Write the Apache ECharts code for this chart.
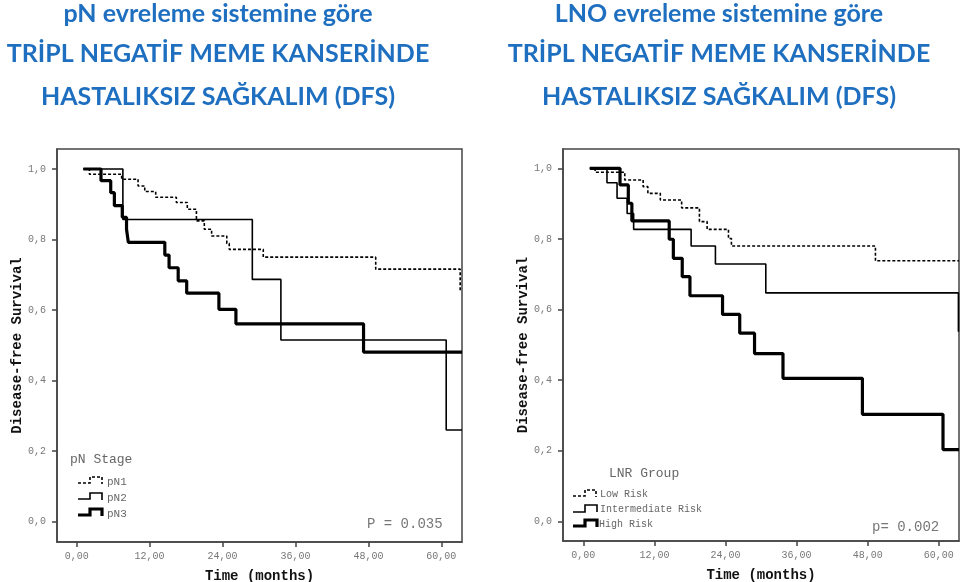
<!DOCTYPE html>
<html>
<head>
<meta charset="utf-8">
<script src="https://cdn.jsdelivr.net/npm/echarts@6/dist/echarts.min.js"></script>
<style>html,body{margin:0;padding:0;background:#fff}#c{width:960px;height:582px}</style>
</head>
<body>
<div id="c"></div>
<script>
// ---- Data ----
var xTicks = [0, 12, 24, 36, 48, 60];
var yTicks = [0, 0.2, 0.4, 0.6, 0.8, 1.0];

// Left chart: pN Stage
var pn1Time = [1.1, 2.1, 7.4, 10.1, 11.2, 13.0, 16.4, 18.2, 19.7, 21.0, 22.2, 24.7, 25.1, 30.7, 49.2, 63.1, 63.1];
var pn1Surv = [1.0, 0.985, 0.971, 0.952, 0.936, 0.920, 0.905, 0.886, 0.853, 0.829, 0.810, 0.789, 0.772, 0.750, 0.716, 0.716, 0.652];
var pn2Time = [1.1, 7.6, 28.9, 33.6, 60.8, 63.4];
var pn2Surv = [1.0, 0.857, 0.687, 0.515, 0.260, 0.260];
var pn3Time = [1.1, 4.0, 5.6, 6.2, 7.5, 8.2, 8.5, 14.5, 15.2, 16.7, 18.1, 23.4, 26.2, 47.2, 63.4];
var pn3Surv = [1.0, 0.967, 0.933, 0.896, 0.863, 0.829, 0.792, 0.756, 0.720, 0.683, 0.648, 0.602, 0.561, 0.481, 0.481];

// Right chart: LNR Group
var lowTime = [1.1, 2.0, 7.0, 10.1, 10.9, 13.0, 16.6, 19.6, 20.9, 24.5, 25.0, 49.3, 63.4];
var lowSurv = [1.0, 0.989, 0.967, 0.948, 0.929, 0.910, 0.888, 0.849, 0.827, 0.801, 0.780, 0.738, 0.738];
var intTime = [1.1, 4.0, 5.7, 7.4, 8.5, 18.2, 22.3, 30.8, 63.3, 63.3];
var intSurv = [1.0, 0.959, 0.915, 0.872, 0.827, 0.780, 0.729, 0.647, 0.647, 0.537];
var highTime = [1.1, 6.2, 7.6, 8.2, 14.5, 15.2, 16.7, 18.0, 23.5, 26.4, 28.9, 33.7, 47.1, 60.7, 63.4];
var highSurv = [1.0, 0.953, 0.901, 0.851, 0.799, 0.745, 0.693, 0.639, 0.586, 0.533, 0.475, 0.405, 0.303, 0.203, 0.203];

var leftTitle = ['pN evreleme sistemine göre', 'TRİPL NEGATİF MEME KANSERİNDE', 'HASTALIKSIZ SAĞKALIM (DFS)'];
var rightTitle = ['LNO evreleme sistemine göre', 'TRİPL NEGATİF MEME KANSERİNDE', 'HASTALIKSIZ SAĞKALIM (DFS)'];

function zip(t, s) { return t.map(function (v, i) { return [v, s[i]]; }); }

var MONO = '"Liberation Mono","DejaVu Sans Mono",monospace';
var frameColor = '#444';
var labelColor = '#777';

function xAxis(idx, min) {
  return {
    type: 'value', gridIndex: idx, min: min, max: 63.4,
    name: 'Time (months)', nameLocation: 'middle', nameGap: 27,
    nameTextStyle: { fontFamily: MONO, fontWeight: 'bold', fontSize: 14, color: '#111' },
    axisLine: { show: true, onZero: false, lineStyle: { color: frameColor, width: 1.5 } },
    axisTick: { show: true, customValues: xTicks, length: 5, inside: false, lineStyle: { color: frameColor, width: 1.5 } },
    axisLabel: { customValues: xTicks, margin: 9, fontFamily: MONO, fontSize: 10, color: labelColor,
      formatter: function (v) { return v.toFixed(2).replace('.', ','); } },
    splitLine: { show: false }
  };
}
function yAxis(idx, min, max, gap) {
  return {
    type: 'value', gridIndex: idx, min: min, max: max,
    name: 'Disease-free Survival', nameLocation: 'middle', nameGap: gap, nameRotate: 90,
    nameTextStyle: { fontFamily: MONO, fontWeight: 'bold', fontSize: 14, color: '#111' },
    axisLine: { show: true, onZero: false, lineStyle: { color: frameColor, width: 1.5 } },
    axisTick: { show: true, customValues: yTicks, length: 5, lineStyle: { color: frameColor, width: 1.5 } },
    axisLabel: { customValues: yTicks, margin: 11, fontFamily: MONO, fontSize: 10, color: labelColor,
      formatter: function (v) { return v.toFixed(1).replace('.', ','); } },
    splitLine: { show: false }
  };
}
function line(name, idx, t, s, style) {
  return {
    name: name, type: 'line', xAxisIndex: idx, yAxisIndex: idx, step: 'end',
    data: zip(t, s), showSymbol: false, symbol: 'none', animation: false,
    lineStyle: style, silent: true
  };
}

var dashStyle = { color: '#000', width: 1.6, type: [3, 2] };
var thinStyle = { color: '#000', width: 1.6 };
var thickStyle = { color: '#000', width: 3.2 };

var graphics = [];
function txt(x, y, text, font, color, align) {
  graphics.push({ type: 'text', x: x, y: y, style: { text: text, font: font, fill: color, align: align || 'left', verticalAlign: 'middle' } });
}
function poly(pts, style) {
  graphics.push({ type: 'polyline', shape: { points: pts }, style: Object.assign({ fill: null, stroke: '#000' }, style) });
}
var titleFont = 'bold 25px Lato, "Open Sans", sans-serif';
var titleColor = '#1f6fc0';
var ty = [14, 54, 97];
leftTitle.forEach(function (t, i) { txt(218, ty[i], t, titleFont, titleColor, 'center'); });
rightTitle.forEach(function (t, i) { txt(719, ty[i], t, titleFont, titleColor, 'center'); });

// Left legend
txt(70, 460, 'pN Stage', '13px ' + MONO, '#666');
poly([[78, 483], [90, 483], [90, 477], [102, 477], [102, 484]], { lineWidth: 1.6, lineDash: [3, 2] });
poly([[78, 499], [90, 499], [90, 493], [102, 493], [102, 500]], { lineWidth: 1.6 });
poly([[78, 515], [90, 515], [90, 509], [102, 509], [102, 516]], { lineWidth: 3.2 });
txt(107, 482, 'pN1', '11px ' + MONO, '#666');
txt(107, 498, 'pN2', '11px ' + MONO, '#666');
txt(107, 514, 'pN3', '11px ' + MONO, '#666');
txt(367, 524, 'P = 0.035', '14px ' + MONO, '#777');

// Right legend
txt(609, 474, 'LNR Group', '13px ' + MONO, '#666');
poly([[573, 496], [585, 496], [585, 490], [596, 490], [596, 497]], { lineWidth: 1.6, lineDash: [3, 2] });
poly([[573, 512], [585, 512], [585, 505], [597, 505], [597, 512]], { lineWidth: 1.6 });
poly([[573, 526], [585, 526], [585, 520], [597, 520], [597, 527]], { lineWidth: 3.2 });
txt(600, 494, 'Low Risk', '10px ' + MONO, '#666');
txt(600, 509, 'Intermediate Risk', '10px ' + MONO, '#666');
txt(599, 524, 'High Risk', '10px ' + MONO, '#666');
txt(872, 527, 'p= 0.002', '14px ' + MONO, '#777');

var chart = echarts.init(document.getElementById('c'), null, { renderer: 'canvas' });
chart.setOption({
  backgroundColor: '#fff',
  animation: false,
  grid: [
    { left: 57, top: 149, width: 405, height: 393, show: true, borderColor: frameColor, borderWidth: 1.5, backgroundColor: 'transparent', containLabel: false, outerBoundsMode: 'none' },
    { left: 563, top: 149, width: 396, height: 392, show: true, borderColor: frameColor, borderWidth: 1.5, backgroundColor: 'transparent', containLabel: false, outerBoundsMode: 'none' }
  ],
  xAxis: [xAxis(0, -3.24), xAxis(1, -3.42)],
  yAxis: [yAxis(0, -0.0576, 1.0567, 31), yAxis(1, -0.0559, 1.0547, 28)],
  series: [
    line('pN1', 0, pn1Time, pn1Surv, dashStyle),
    line('pN2', 0, pn2Time, pn2Surv, thinStyle),
    line('pN3', 0, pn3Time, pn3Surv, thickStyle),
    line('Low Risk', 1, lowTime, lowSurv, dashStyle),
    line('Intermediate Risk', 1, intTime, intSurv, thinStyle),
    line('High Risk', 1, highTime, highSurv, thickStyle)
  ],
  graphic: graphics
});
</script>
</body>
</html>
